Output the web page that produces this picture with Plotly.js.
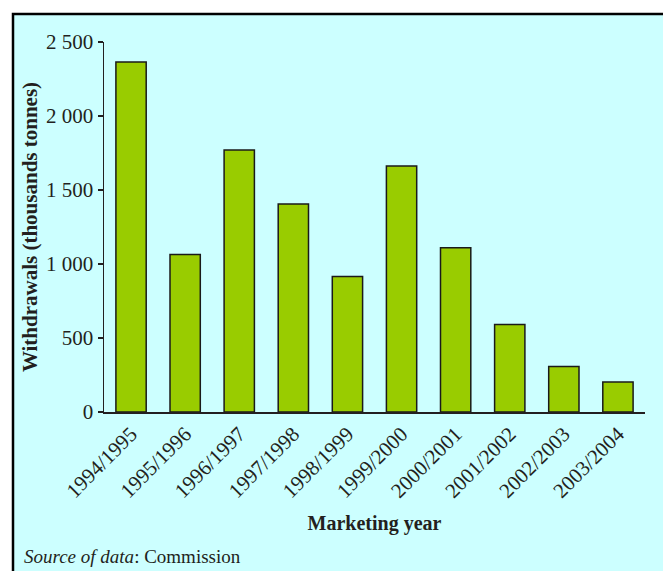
<!DOCTYPE html>
<html>
<head>
<meta charset="utf-8">
<script src="https://cdn.plot.ly/plotly-3.0.1.min.js"></script>
<style>html,body{margin:0;padding:0;background:#fff;}#chart{width:663px;height:571px;}</style>
</head>
<body>
<div id="chart"></div>
<script>
const years = ["1994/1995","1995/1996","1996/1997","1997/1998","1998/1999","1999/2000","2000/2001","2001/2002","2002/2003","2003/2004"];
const withdrawals = [2365, 1065, 1770, 1405, 915, 1662, 1110, 592, 308, 202];
const yTitle = "Withdrawals (thousands tonnes)";
const xTitle = "Marketing year";
const sourceNote = "<i>Source of data</i>: Commission";

const FONT = "Liberation Serif, Times New Roman, serif";
const INK = "#231f20";
const trace = {
  type: "bar",
  x: years,
  y: withdrawals,
  marker: {color: "#99cc00", line: {color: "#1a1a1a", width: 1.5}},
  hoverinfo: "x+y"
};
const layout = {
  width: 663, height: 571,
  margin: {l: 104, r: 18, t: 42, b: 158.5},
  paper_bgcolor: "#ffffff",
  plot_bgcolor: "rgba(0,0,0,0)",
  separators: ". ",
  bargap: 0.44,
  showlegend: false,
  font: {family: FONT, size: 21, color: INK},
  xaxis: {
    type: "category",
    tickangle: -45,
    showline: true, linecolor: INK, linewidth: 1.5,
    ticks: "", showgrid: false, zeroline: false,
    tickfont: {family: FONT, size: 21, color: INK},
    title: {text: "<b>" + xTitle + "</b>", font: {family: FONT, size: 20, color: INK}, standoff: 14},
    fixedrange: true
  },
  yaxis: {
    range: [0, 2500],
    tickvals: [0, 500, 1000, 1500, 2000, 2500],
    tickformat: ",d",
    showline: true, linecolor: INK, linewidth: 1.5,
    ticks: "outside", ticklen: 5, tickwidth: 1.5, tickcolor: INK,
    showgrid: false, zeroline: false,
    tickfont: {family: FONT, size: 21, color: INK},
    title: {text: "<b>" + yTitle + "</b>", font: {family: FONT, size: 21, color: INK}, standoff: 2},
    fixedrange: true
  },
  shapes: [{
    type: "rect", xref: "paper", yref: "paper", layer: "below",
    x0: -0.1682, x1: 1.06, y0: 1.0756, y1: -0.46,
    fillcolor: "#ccffff", line: {color: "#000000", width: 2.5}
  }],
  annotations: [{
    xref: "paper", yref: "paper",
    x: -0.1516, y: -0.39, xanchor: "left", yanchor: "middle",
    text: sourceNote, showarrow: false,
    font: {family: FONT, size: 19, color: INK}
  }]
};
Plotly.newPlot("chart", [trace], layout, {displayModeBar: false, staticPlot: true});
</script>
</body>
</html>
